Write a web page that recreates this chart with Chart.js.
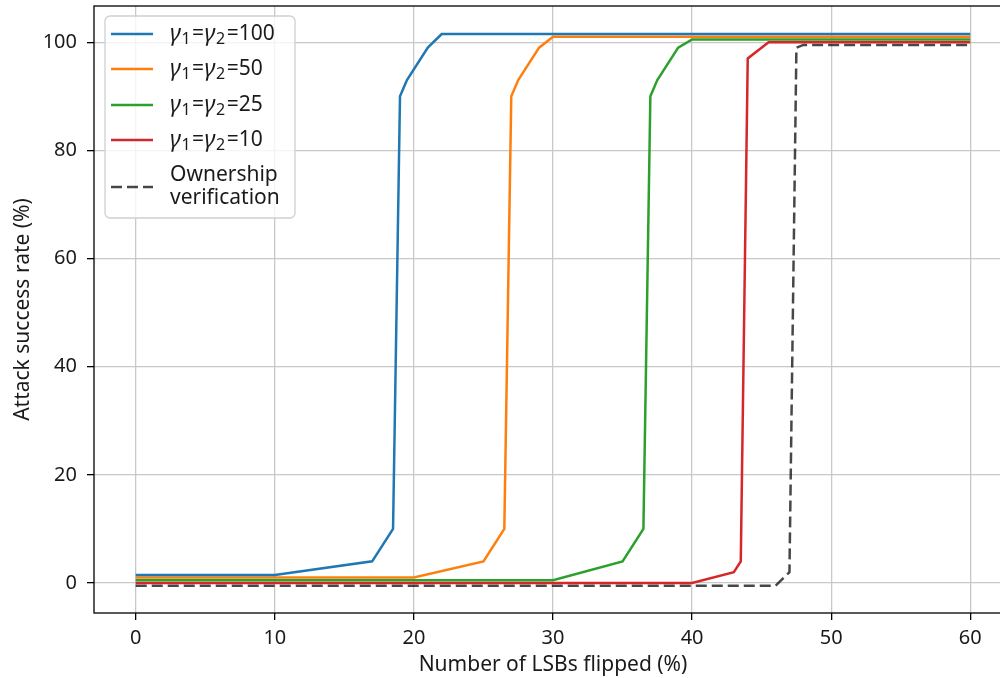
<!DOCTYPE html>
<html>
<head>
<meta charset="utf-8">
<script src="https://cdn.jsdelivr.net/npm/chart.js@4.4.1/dist/chart.umd.min.js"></script>
<style>
  html, body { margin: 0; padding: 0; background: #fff; width: 1000px; height: 678px; overflow: hidden; }
  canvas { display: block; }
</style>
</head>
<body>
<canvas id="chart" width="1015" height="678"></canvas>
<script>
// tick labels
const xTicks = [0, 10, 20, 30, 40, 50, 60];
const yTicks = [0, 20, 40, 60, 80, 100];

// gamma settings, one per curve
const gammas = [100, 50, 25, 10];

// LSBs flipped (%) / attack success rate (%)
const lsbG100 = [0, 10, 17, 18.5, 19, 19.5, 21, 22, 60];
const asrG100 = [1.5, 1.5, 4, 10, 90, 93, 99, 101.5, 101.5];

const lsbG50 = [0, 20, 25, 26.5, 27, 27.5, 29, 30, 60];
const asrG50 = [1, 1, 4, 10, 90, 93, 99, 101, 101];

const lsbG25 = [0, 30, 35, 36.5, 37, 37.5, 39, 40, 60];
const asrG25 = [0.5, 0.5, 4, 10, 90, 93, 99, 100.5, 100.5];

const lsbG10 = [0, 40, 43, 43.5, 44, 45.5, 60];
const asrG10 = [0, 0, 2, 4, 97, 100, 100];

const lsbOwner = [0, 46, 47, 47.5, 48, 60];
const asrOwner = [-0.5, -0.5, 2, 99, 99.5, 99.5];

const FONT = "'Noto Sans', 'Open Sans', sans-serif";
const TEXT = "#1a1a1a";

const series = [
  { label: "γ₁=γ₂=" + gammas[0], x: lsbG100, y: asrG100, color: "#1f77b4", dash: [] },
  { label: "γ₁=γ₂=" + gammas[1], x: lsbG50, y: asrG50, color: "#ff7f0e", dash: [] },
  { label: "γ₁=γ₂=" + gammas[2], x: lsbG25, y: asrG25, color: "#2ca02c", dash: [] },
  { label: "γ₁=γ₂=" + gammas[3], x: lsbG10, y: asrG10, color: "#d62728", dash: [] },
  { label: "Ownership verification", x: lsbOwner, y: asrOwner, color: "rgba(0,0,0,0.72)", dash: [11, 5] }
];

function toPoints(xs, ys) {
  return xs.map((x, i) => ({ x: x, y: ys[i] }));
}

// matplotlib-like box round the axes
const frame = {
  id: "frame",
  afterDatasetsDraw(chart) {
    const { ctx, chartArea: a } = chart;
    ctx.save();
    ctx.strokeStyle = "#000";
    ctx.lineWidth = 1.3;
    ctx.strokeRect(a.left, a.top, a.right - a.left, a.bottom - a.top);
    ctx.restore();
  }
};

// legend with subscripts and a two-line entry
const legendBox = {
  id: "legendBox",
  afterDraw(chart) {
    const ctx = chart.ctx;
    const bx = 105, by = 16, bw = 190, bh = 202;
    ctx.save();
    ctx.beginPath();
    ctx.roundRect(bx, by, bw, bh, 5);
    ctx.fillStyle = "rgba(255,255,255,0.8)";
    ctx.fill();
    ctx.strokeStyle = "#d0d0d0";
    ctx.lineWidth = 1.3;
    ctx.stroke();

    const rows = [34, 69, 105, 140, 187];
    chart.data.datasets.forEach((ds, i) => {
      const y = rows[i];
      ctx.beginPath();
      ctx.setLineDash(ds.borderDash || []);
      ctx.strokeStyle = ds.borderColor;
      ctx.lineWidth = 2.5;
      ctx.moveTo(111, y);
      ctx.lineTo(153, y);
      ctx.stroke();
      ctx.setLineDash([]);

      ctx.fillStyle = TEXT;
      ctx.textBaseline = "middle";
      ctx.textAlign = "left";
      if (i < gammas.length) {
        let x = 170;
        const parts = [
          ["γ", "it"], ["1", "sub"], ["=", ""], ["γ", "it"], ["2", "sub"], ["=" + gammas[i], ""]
        ];
        parts.forEach(([t, kind]) => {
          if (kind === "it") ctx.font = "italic 23px " + FONT;
          else if (kind === "sub") ctx.font = "16px " + FONT;
          else ctx.font = "21px " + FONT;
          ctx.fillText(t, x, kind === "sub" ? y + 5 : y);
          x += ctx.measureText(t).width + (kind === "sub" ? 1.5 : 0.5);
        });
      } else {
        ctx.font = "21px " + FONT;
        ctx.fillText("Ownership", 170, 175);
        ctx.fillText("verification", 170, 198);
      }
    });
    ctx.restore();
  }
};

new Chart(document.getElementById("chart"), {
  type: "line",
  data: {
    datasets: series.map(s => ({
      label: s.label,
      data: toPoints(s.x, s.y),
      borderColor: s.color,
      backgroundColor: s.color,
      borderDash: s.dash,
      borderWidth: 2.5,
      pointRadius: 0,
      tension: 0,
      fill: false
    }))
  },
  options: {
    responsive: false,
    animation: false,
    layout: { padding: { left: 0, top: 6, right: 3, bottom: 0 } },
    plugins: {
      legend: { display: false },
      tooltip: { enabled: false }
    },
    scales: {
      x: {
        type: "linear",
        min: -3,
        max: 63,
        afterBuildTicks: s => { s.ticks = xTicks.map(v => ({ value: v })); },
        afterFit: s => { s.height = 65; s.paddingLeft = 0; s.paddingRight = 0; },
        ticks: { color: TEXT, font: { family: FONT, size: 20 }, padding: 6, maxRotation: 0 },
        grid: { color: "#c8c8c8", lineWidth: 1.3, tickColor: "#000", tickLength: 7 },
        border: { display: false },
        title: {
          display: true,
          text: "Number of LSBs flipped (%)",
          color: TEXT,
          font: { family: FONT, size: 21 },
          padding: { top: 5, bottom: 0 }
        }
      },
      y: {
        type: "linear",
        min: -5.55,
        max: 106.7,
        afterBuildTicks: s => { s.ticks = yTicks.map(v => ({ value: v })); },
        afterFit: s => { s.width = 94; s.paddingTop = 0; s.paddingBottom = 0; },
        ticks: { color: TEXT, font: { family: FONT, size: 20 }, padding: 10 },
        grid: { color: "#c8c8c8", lineWidth: 1.3, tickColor: "#000", tickLength: 7 },
        border: { display: false },
        title: {
          display: true,
          text: "Attack success rate (%)",
          color: TEXT,
          font: { family: FONT, size: 21 },
          padding: { top: 10, bottom: 0 }
        }
      }
    }
  },
  plugins: [frame, legendBox]
});
</script>
</body>
</html>
